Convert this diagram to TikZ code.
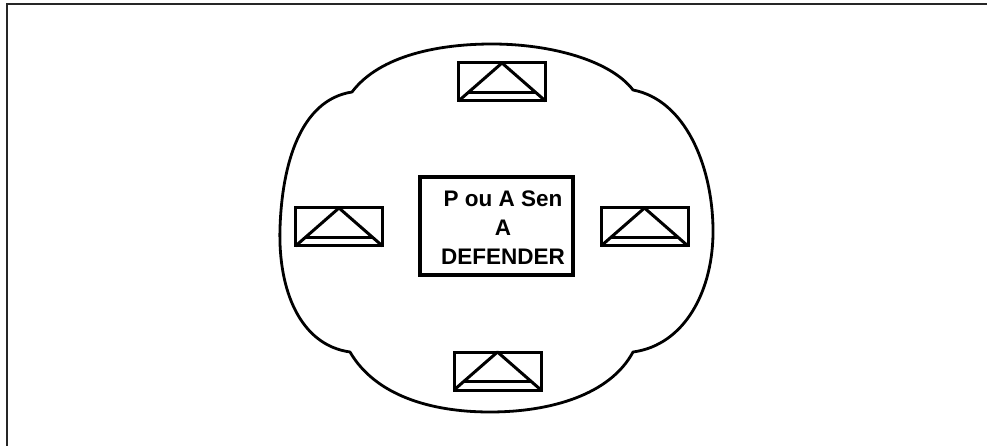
\documentclass[tikz,border=0pt]{standalone}
\usepackage{fontspec}
\setmainfont{Liberation Sans}
\usetikzlibrary{calc}
\begin{document}
\begin{tikzpicture}[x=1pt,y=-1pt,
  sentry/.style={draw, line width=3pt, minimum width=87pt, minimum height=38pt, inner sep=0pt, outer sep=0pt},
  blob/.style={line width=2.8pt, line join=round},
  mainbox/.style={draw, line width=4pt, minimum width=153pt, minimum height=98pt, inner sep=0pt, outer sep=0pt},
  frameline/.style={line width=2.2pt, draw=black!85}]
\useasboundingbox (0,0) rectangle (987,446);
% frame
\draw[frameline] (7,446) -- (7,4) -- (987,4);
% outer blob
\draw[blob] (352,92) .. controls (380,55) and (440,44) .. (492,44)
  .. controls (550,44) and (610,60) .. (633,90)
  .. controls (685,100) and (712,165) .. (713,228)
  .. controls (714,290) and (685,345) .. (633,352)
  .. controls (610,395) and (550,412) .. (490,412)
  .. controls (430,412) and (375,395) .. (350,352)
  .. controls (300,345) and (278,290) .. (280,228)
  .. controls (282,165) and (300,100) .. (352,92) -- cycle;
% sentry posts
\node[sentry] (top) at (502,82) {};
\node[sentry] (left) at (339,227) {};
\node[sentry] (right) at (644.5,227) {};
\node[sentry] (bottom) at (497.5,371) {};
\foreach \n in {top,left,right,bottom}{
  \draw[line width=3pt, line join=round] (\n.south west) -- (\n.north) -- (\n.south east);
  \draw[line width=3pt] ($(\n.south west)!0.22!(\n.north)$) -- ($(\n.south east)!0.22!(\n.north)$);
}
% central box
\node[mainbox] (center) at (496.5,226) {};
\node[font=\bfseries\fontsize{22.5}{29}\selectfont, align=center, inner sep=0pt] (label) at (503,228) {P ou A Sen\\A\\DEFENDER};
\end{tikzpicture}
\end{document}
